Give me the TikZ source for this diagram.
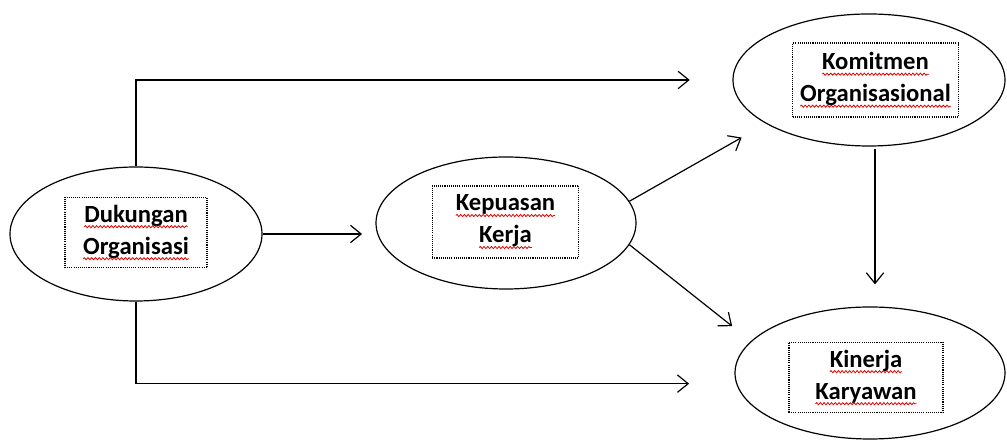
\documentclass[tikz,border=0pt]{standalone}
\usepackage{fontspec}
\setmainfont{Carlito}
\usepackage{tikz}
\usetikzlibrary{positioning,shapes.geometric,arrows.meta,decorations.pathmorphing}

% red wavy underline under each word
\newcommand\spellwave[1]{\tikz[baseline=(w.base)]{%
    \node[shape=rectangle,draw=none,solid,inner sep=0pt,outer sep=0pt,
        minimum width=0pt,minimum height=0pt] (w) {#1};
    \draw[red!90!black,solid,line width=0.6pt,decorate,
        decoration={snake,amplitude=0.8pt,segment length=2.8pt}]
        ([yshift=-3.4pt]w.base west) -- ([yshift=-3.4pt]w.base east);}}

\begin{document}
\begin{tikzpicture}[
    x=0.75pt,y=0.75pt,
    >={Straight Barb[length=8pt,width=13pt]},
    oval/.style={draw,ellipse,line width=0.9pt,minimum height=99pt},
    tag/.style={draw,dash pattern=on 0.8pt off 0.8pt,line width=0.9pt,align=center,inner sep=0pt,
        font=\fontsize{18.5}{24}\selectfont\bfseries},
    arr/.style={->,line width=0.9pt}
]
\useasboundingbox (0,0) rectangle (1007,441);
\fill[white] (0,0) rectangle (1007,441);

% variables
\node[oval,minimum width=189pt,minimum height=100.5pt] (duk) at (136,207) {};
\node[tag,minimum width=106.5pt,minimum height=53pt] (dukt) at (136,208.5) {\spellwave{Dukungan}\\\spellwave{Organisasi}};

\node[oval,minimum width=195pt] (kep) at (506,218) {};
\node[tag,minimum width=110pt,minimum height=54pt] (kept) at (505.5,219) {\spellwave{Kepuasan}\\\spellwave{Kerja}};

\node[oval,minimum width=204pt] (kom) at (869,361) {};
\node[tag,minimum width=124pt,minimum height=55.5pt] (komt) at (875.5,361) {\spellwave{Komitmen}\\\spellwave{Organisasional}};

\node[oval,minimum width=202.5pt] (kin) at (870,68) {};
\node[tag,minimum width=115.5pt,minimum height=53pt] (kint) at (866,63.5) {\spellwave{Kinerja}\\\spellwave{Karyawan}};

% paths
\draw[arr,shorten >=32pt] (duk.north) |- (kom.west);
\draw[arr,shorten >=34pt] (duk.south) |- ([yshift=-8pt]kin.west);
\draw[arr,shorten >=10pt] (duk.east) -- (duk.east -| kep.west);
\draw[arr,shorten >=21pt] (kep.10) -- (kom.203);
\draw[arr,shorten >=18pt] (kep.-10) -- (kin.165);
\draw[arr,shorten <=2pt,shorten >=16.5pt] ([xshift=4.5pt]kom.south) -- ([xshift=4.5pt]kom.south |- kin.north);
\end{tikzpicture}
\end{document}
